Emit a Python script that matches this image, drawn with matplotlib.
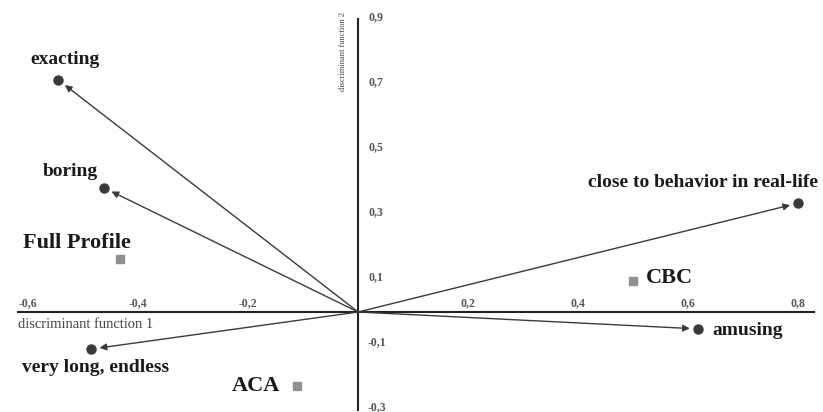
import matplotlib.pyplot as plt

# 判别函数得分 (discriminant function 1, discriminant function 2)
attr_names = ["exacting", "boring", "close to behavior in real-life", "amusing", "very long, endless"]
attr_x = [-0.545, -0.462, 0.80, 0.618, -0.485]
attr_y = [0.714, 0.382, 0.335, -0.052, -0.114]

method_names = ["Full Profile", "CBC", "ACA"]
method_x = [-0.433, 0.50, -0.111]
method_y = [0.163, 0.095, -0.228]

xticks = [-0.6, -0.4, -0.2, 0.2, 0.4, 0.6, 0.8]
xtick_labels = ["-0,6", "-0,4", "-0,2", "0,2", "0,4", "0,6", "0,8"]
yticks = [0.9, 0.7, 0.5, 0.3, 0.1, -0.1, -0.3]
ytick_labels = ["0,9", "0,7", "0,5", "0,3", "0,1", "-0,1", "-0,3"]

serif = "Liberation Serif"

fig = plt.figure(figsize=(8.23, 4.12), dpi=100)
ax = fig.add_axes([0, 0, 1, 1])
ax.set_xlim(-0.651, 0.845)
ax.set_ylim(-0.3077, 0.96)
ax.axis("off")

# 坐标轴
ax.plot([-0.618, 0.829], [0, 0], color="#222222", lw=1.5)
ax.plot([0, 0], [-0.302, 0.9], color="#222222", lw=1.5)

for x, lab in zip(xticks, xtick_labels):
    ax.text(x, 0.01, lab, ha="center", va="bottom", fontsize=8.5,
            family=serif, fontweight="bold", color="#555555")
for y, lab in zip(yticks, ytick_labels):
    ax.annotate(lab, xy=(0.018, y), xytext=(0, 2), textcoords="offset points",
                ha="left", va="center", fontsize=8.5,
                family=serif, fontweight="bold", color="#555555")

ax.text(-0.618, -0.018, "discriminant function 1", ha="left", va="top",
        fontsize=10.5, family=serif, color="#444444")
ax.text(-0.027, 0.923, "discriminant function 2", ha="center", va="top",
        rotation=90, fontsize=6, family=serif, color="#444444")

# 箭头 + 属性点
for x, y in zip(attr_x, attr_y):
    ax.annotate("", xy=(x, y), xytext=(0, 0),
                arrowprops=dict(arrowstyle="-|>", color="#3a3a3a", lw=1.0,
                                shrinkA=0, shrinkB=6, mutation_scale=10))
ax.plot(attr_x, attr_y, "o", color="#3a3a3a", markersize=6.5, zorder=5)

attr_offsets = [(5, 14.4, "center", "center"), (-24, 11.5, "center", "center"),
                (14, 15, "right", "center"), (10, -1, "left", "center"),
                (3, -13, "center", "center")]
for name, x, y, (dx, dy, ha, va) in zip(attr_names, attr_x, attr_y, attr_offsets):
    ax.annotate(name, xy=(x, y), xytext=(dx, dy), textcoords="offset points",
                ha=ha, va=va, fontsize=14, family=serif, fontweight="bold",
                color="#1a1a1a")

# 方法点
ax.plot(method_x, method_y, "s", color="#909090", markersize=5.5, zorder=5)
method_offsets = [(-31, 11.5, "center", "center"), (9.4, 2, "left", "center"),
                  (-12, 0, "right", "center")]
for name, x, y, (dx, dy, ha, va) in zip(method_names, method_x, method_y, method_offsets):
    ax.annotate(name, xy=(x, y), xytext=(dx, dy), textcoords="offset points",
                ha=ha, va=va, fontsize=16, family=serif, fontweight="bold",
                color="#1a1a1a")

fig.savefig("out.png", dpi=100)
